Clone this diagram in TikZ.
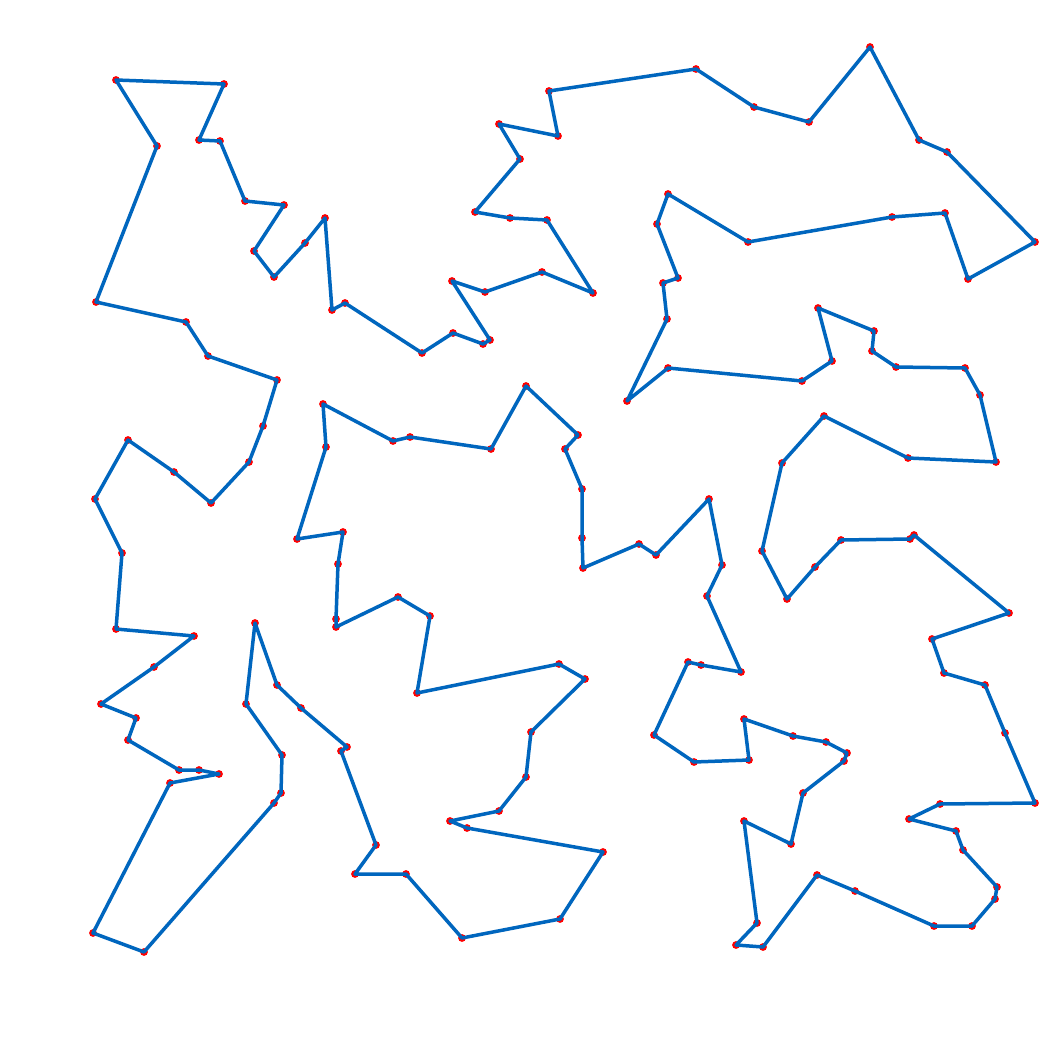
\documentclass[tikz,border=0pt]{standalone}
\usepackage{tikz}
\definecolor{tourblue}{RGB}{0,102,190}
\tikzset{
  tourline/.style={draw=tourblue, line width=3.5pt, line join=round, line cap=round},
  citydot/.style={fill=red}
}
\begin{document}
\begin{tikzpicture}[x=1pt,y=-1pt]
\useasboundingbox[fill=white] (0,0) rectangle (1063,1047);
\foreach \px/\py [count=\i] in {
116/80, 224/84, 199/140, 220/141, 245/201, 284/205, 254/251, 274/277, 305/243, 325/218,
332/310, 345/303, 422/353, 453/333, 483/344, 490/340, 452/281, 485/292, 542/272, 593/293,
547/220, 510/218, 475/212, 520/159, 499/124, 558/136, 549/91, 696/69, 754/107, 809/122,
870/47, 919/140, 947/152, 1035/242, 968/279, 945/213, 892/217, 748/242, 668/194, 657/224,
678/278, 663/283, 667/319, 627/401, 668/368, 802/381, 832/361, 818/308, 874/331, 872/351,
896/367, 965/368, 980/395, 996/462, 908/458, 824/416, 782/463, 762/551, 787/599, 815/567,
841/540, 910/539, 914/535, 1009/613, 932/639, 944/673, 985/685, 1005/733, 1035/803, 940/804,
909/819, 956/831, 963/850, 997/887, 995/899, 972/926, 934/926, 855/891, 817/875, 763/947,
736/945, 757/923, 744/821, 791/844, 803/793, 844/761, 847/753, 826/742, 793/736, 744/719,
749/760, 694/762, 654/735, 688/662, 701/665, 741/672, 707/596, 722/565, 709/499, 656/555,
639/544, 583/568, 582/538, 582/489, 565/449, 578/435, 526/386, 491/449, 410/437, 393/441,
323/404, 326/447, 297/539, 343/532, 338/564, 336/619, 336/627, 398/597, 430/616, 417/693,
559/664, 585/679, 531/732, 526/777, 499/811, 450/821, 467/828, 603/852, 560/919, 462/938,
406/874, 355/874, 376/845, 341/751, 347/747, 301/708, 277/685, 255/623, 246/704, 282/755,
281/793, 274/803, 144/952, 93/933, 170/783, 219/774, 199/770, 179/770, 128/740, 136/718,
101/704, 154/667, 194/636, 116/629, 122/553, 95/499, 128/440, 174/472, 211/503, 249/462,
263/426, 277/380, 208/356, 186/322, 96/302, 157/146}
  {\coordinate (p\i) at (\px,\py);}
\foreach \i in {1,...,166} {\fill[citydot] (p\i) circle (3.9);}
\draw[tourline] (p1) \foreach \i in {2,...,166} {-- (p\i)} -- cycle;
\end{tikzpicture}
\end{document}
